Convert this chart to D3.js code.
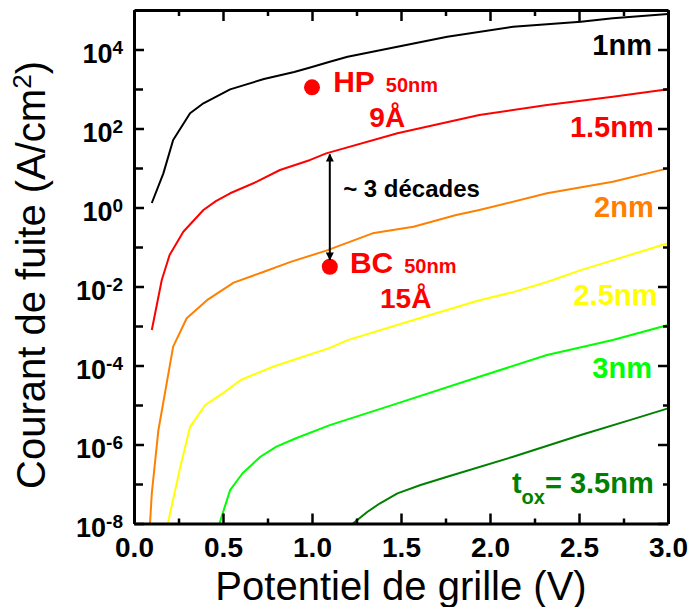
<!DOCTYPE html>
<html>
<head>
<meta charset="utf-8">
<script src="https://cdn.jsdelivr.net/npm/d3@7"></script>
<style>
body { margin: 0; background: #fff; }
text { font-family: "Liberation Sans", Arial, sans-serif; }
</style>
</head>
<body>
<div id="chart"></div>
<script>
const MARGIN = {top: 10, right: 23, bottom: 83.5, left: 134}
const TOTAL_WIDTH = 691
const TOTAL_HEIGHT = 607
const CHART_WIDTH = TOTAL_WIDTH - MARGIN.left - MARGIN.right
const CHART_HEIGHT = TOTAL_HEIGHT - MARGIN.top - MARGIN.bottom

// gate voltage (V) / leakage current density (A/cm2), one pair per oxide thickness
const v_1nm = [0.10, 0.165, 0.22, 0.315, 0.39, 0.54, 0.73, 0.90, 0.99, 1.10, 1.20, 1.48, 1.76, 2.13, 2.51, 2.69, 3.00]
const j_1nm = [1.3, 7.3, 51, 243, 435, 980, 1790, 2700, 3500, 4910, 6580, 11800, 21100, 37800, 50600, 61700, 79400]

const v_15nm = [0.10, 0.156, 0.20, 0.277, 0.39, 0.46, 0.54, 0.69, 0.82, 0.99, 1.08, 1.48, 1.94, 2.32, 2.69, 3.00]
const j_15nm = [7.9e-4, 1.46e-2, 6.3e-2, 0.244, 0.865, 1.45, 2.29, 4.5, 8.9, 16, 23.5, 75.5, 220, 394, 638, 982]

const v_2nm = [0.09, 0.10, 0.137, 0.22, 0.296, 0.41, 0.56, 0.73, 0.88, 1.08, 1.34, 1.57, 1.81, 1.94, 2.32, 2.69, 3.00]
const j_2nm = [1e-8, 5.8e-8, 2.3e-6, 3.0e-4, 1.57e-3, 4.5e-3, 1.25e-2, 2.37e-2, 4.2e-2, 8.1e-2, 0.222, 0.327, 0.646, 0.865, 2.29, 4.5, 9.8]

const v_25nm = [0.19, 0.26, 0.315, 0.40, 0.50, 0.60, 0.78, 0.95, 1.10, 1.20, 1.57, 1.94, 2.13, 2.32, 2.51, 3.00]
const j_25nm = [1e-8, 2.7e-7, 2.8e-6, 1.0e-5, 2.0e-5, 4.3e-5, 9.3e-5, 1.67e-4, 2.8e-4, 4.4e-4, 1.42e-3, 4.5e-3, 7.2e-3, 1.3e-2, 2.6e-2, 0.124]

const v_3nm = [0.48, 0.54, 0.61, 0.71, 0.80, 0.91, 1.10, 1.48, 1.94, 2.32, 2.69, 3.00]
const j_3nm = [1e-8, 7.0e-8, 1.87e-7, 4.9e-7, 8.8e-7, 1.44e-6, 3.1e-6, 1.1e-5, 5.2e-5, 1.85e-4, 4.4e-4, 1.06e-3]

const v_35nm = [1.23, 1.31, 1.38, 1.48, 1.61, 1.76, 2.13, 2.51, 2.79, 3.00]
const j_35nm = [1e-8, 1.95e-8, 3.2e-8, 5.8e-8, 9.4e-8, 1.53e-7, 4.9e-7, 1.74e-6, 4.2e-6, 8.2e-6]

const seriesNames = ['1nm', '1.5nm', '2nm', '2.5nm', '3nm', '3.5nm']
const seriesColors = ['#000000', '#ff0000', '#ff8000', '#ffff00', '#00ff00', '#008000']

// tick labels
const xTicks = [0.0, 0.5, 1.0, 1.5, 2.0, 2.5, 3.0]
const xMinorTicks = [0.25, 0.75, 1.25, 1.75, 2.25, 2.75]
const yExponents = [-8, -6, -4, -2, 0, 2, 4]
const yMinorExponents = [-7, -5, -3, -1, 1, 3]

// technology nodes: [V, J]
const hpPoint = [1.0, 1100]
const bcPoint = [1.1, 0.0316]
const arrowV = 1.1
const arrowJ = [23.5, 0.045]

let series = [
    {name: seriesNames[0], v: v_1nm, j: j_1nm},
    {name: seriesNames[1], v: v_15nm, j: j_15nm},
    {name: seriesNames[2], v: v_2nm, j: j_2nm},
    {name: seriesNames[3], v: v_25nm, j: j_25nm},
    {name: seriesNames[4], v: v_3nm, j: j_3nm},
    {name: seriesNames[5], v: v_35nm, j: j_35nm}
]

let svg = d3.select('#chart')
    .append('svg')
    .attr('width', TOTAL_WIDTH)
    .attr('height', TOTAL_HEIGHT)
    .style('background', '#fff')

let xScale = d3.scaleLinear().domain([0, 3]).range([0, CHART_WIDTH])
let yScale = d3.scaleLog().domain([1e-8, 1e5]).range([CHART_HEIGHT, 0])

let plot = svg.append('g')
    .attr('transform', 'translate(' + MARGIN.left + ',' + MARGIN.top + ')')

svg.append('defs').append('marker')
    .attr('id', 'head')
    .attr('viewBox', '0 0 10 10')
    .attr('refX', 9).attr('refY', 5)
    .attr('markerWidth', 4).attr('markerHeight', 4)
    .attr('orient', 'auto-start-reverse')
    .append('path')
    .attr('d', 'M0,0 L10,5 L0,10 z')
    .attr('fill', '#000')

let line = d3.line()
    .x(d => xScale(d[0]))
    .y(d => yScale(d[1]))

plot.selectAll('.curve')
    .data(series)
    .join('path')
    .attr('class', 'curve')
    .attr('d', s => line(s.v.map((v, i) => [v, s.j[i]])))
    .attr('fill', 'none')
    .attr('stroke', (s, i) => seriesColors[i])
    .attr('stroke-width', 2)
    .attr('stroke-linejoin', 'round')

// axes: all ticks point inwards
function styleAxis(g) {
    g.attr('font-family', null).attr('font-size', null)
    g.select('.domain').attr('stroke-width', 3).attr('stroke', '#000')
    g.selectAll('.tick line').attr('stroke-width', 2.5).attr('stroke', '#000')
}

plot.append('g')
    .attr('transform', 'translate(0,' + CHART_HEIGHT + ')')
    .call(d3.axisBottom(xScale).tickValues(xMinorTicks).tickSize(-5).tickSizeOuter(0).tickFormat(''))
    .call(g => g.select('.domain').remove())
    .call(styleAxis)

plot.append('g')
    .call(d3.axisTop(xScale).tickValues(xMinorTicks).tickSize(-6).tickSizeOuter(0).tickFormat(''))
    .call(g => g.select('.domain').remove())
    .call(styleAxis)

plot.append('g')
    .call(d3.axisLeft(yScale).tickValues(yMinorExponents.map(e => Math.pow(10, e))).tickSize(-9).tickSizeOuter(0).tickFormat(''))
    .call(g => g.select('.domain').remove())
    .call(styleAxis)

plot.append('g')
    .attr('transform', 'translate(' + CHART_WIDTH + ',0)')
    .call(d3.axisRight(yScale).tickValues(yMinorExponents.map(e => Math.pow(10, e))).tickSize(-5).tickSizeOuter(0).tickFormat(''))
    .call(g => g.select('.domain').remove())
    .call(styleAxis)

let xAxis = plot.append('g')
    .attr('transform', 'translate(0,' + CHART_HEIGHT + ')')
    .call(d3.axisBottom(xScale).tickValues(xTicks).tickSize(-10).tickSizeOuter(0).tickPadding(14).tickFormat(d3.format('.1f')))
    .call(styleAxis)

xAxis.selectAll('.tick text')
    .style('font-size', '28px')
    .style('font-weight', 'bold')
    .attr('fill', '#000')

plot.append('g')
    .call(d3.axisTop(xScale).tickValues(xTicks).tickSize(-11).tickSizeOuter(0).tickFormat(''))
    .call(styleAxis)

let yAxis = plot.append('g')
    .call(d3.axisLeft(yScale).tickValues(yExponents.map(e => Math.pow(10, e))).tickSize(-10).tickSizeOuter(0).tickFormat(''))
    .call(styleAxis)

plot.append('g')
    .attr('transform', 'translate(' + CHART_WIDTH + ',0)')
    .call(d3.axisRight(yScale).tickValues(yExponents.map(e => Math.pow(10, e))).tickSize(-10).tickSizeOuter(0).tickFormat(''))
    .call(styleAxis)

// power-of-ten labels
yAxis.selectAll('.tick').each(function(d) {
    let t = d3.select(this).append('text')
        .attr('x', -11)
        .attr('y', 12.5)
        .attr('text-anchor', 'end')
        .attr('fill', '#000')
        .style('font-weight', 'bold')
    t.append('tspan').text('10').style('font-size', '27px')
    t.append('tspan').text(Math.round(Math.log10(d))).style('font-size', '19px').attr('dy', -8.5)
})

// axis titles
svg.append('text')
    .attr('x', MARGIN.left + CHART_WIDTH / 2)
    .attr('y', 600)
    .attr('text-anchor', 'middle')
    .style('font-size', '40px')
    .text('Potentiel de grille (V)')

let yTitle = svg.append('text')
    .attr('transform', 'translate(45,275) rotate(-90)')
    .attr('text-anchor', 'middle')
    .style('font-size', '40px')
yTitle.append('tspan').text('Courant de fuite (A/cm')
yTitle.append('tspan').text('2').style('font-size', '26px').attr('dy', -14)
yTitle.append('tspan').text(')').attr('dy', 14)

// curve labels: [V, J] of text end
const curveLabelPos = [[2.91, 7260], [2.92, 62], [2.92, 0.585], [2.94, 3.4e-3], [2.91, 4.8e-5], [2.92, 5.9e-8]]

plot.selectAll('.clabel')
    .data(series)
    .join('text')
    .attr('class', 'clabel')
    .attr('x', (s, i) => xScale(curveLabelPos[i][0]))
    .attr('y', (s, i) => yScale(curveLabelPos[i][1]))
    .attr('text-anchor', 'end')
    .attr('fill', (s, i) => seriesColors[i])
    .style('font-size', '29px')
    .style('font-weight', 'bold')
    .each(function(s, i) {
        let t = d3.select(this)
        if (i === series.length - 1) {
            t.append('tspan').text('t')
            t.append('tspan').text('ox').style('font-size', '20px').attr('dy', 11)
            t.append('tspan').text('= ' + s.name).attr('dy', -11)
        } else {
            t.text(s.name)
        }
    })

// HP / BC markers
plot.selectAll('.node')
    .data([hpPoint, bcPoint])
    .join('circle')
    .attr('class', 'node')
    .attr('cx', d => xScale(d[0]))
    .attr('cy', d => yScale(d[1]))
    .attr('r', 8)
    .attr('fill', '#ff0000')

const nodeLabels = [
    {main: 'HP', sub: '50nm', pos: [1.119, 855], ox: '9Å', oxPos: [1.322, 111]},
    {main: 'BC', sub: '50nm', pos: [1.213, 0.0216], ox: '15Å', oxPos: [1.382, 2.8e-3]}
]

for (let n of nodeLabels) {
    let t = plot.append('text')
        .attr('x', xScale(n.pos[0]))
        .attr('y', yScale(n.pos[1]))
        .attr('fill', '#ff0000')
        .style('font-weight', 'bold')
    t.append('tspan').text(n.main).style('font-size', '30px')
    t.append('tspan').text(n.sub).style('font-size', '20px').attr('dx', 11)

    plot.append('text')
        .attr('x', xScale(n.oxPos[0]))
        .attr('y', yScale(n.oxPos[1]))
        .attr('fill', '#ff0000')
        .style('font-weight', 'bold')
        .style('font-size', '28px')
        .text(n.ox)
}

// ~3 decades arrow
plot.append('line')
    .attr('x1', xScale(arrowV))
    .attr('x2', xScale(arrowV))
    .attr('y1', yScale(arrowJ[0]) + 1)
    .attr('y2', yScale(arrowJ[1]) - 1)
    .attr('stroke', '#000')
    .attr('stroke-width', 2)
    .attr('marker-start', 'url(#head)')
    .attr('marker-end', 'url(#head)')

plot.append('text')
    .attr('x', xScale(1.175))
    .attr('y', yScale(1.87))
    .style('font-size', '24px')
    .style('font-weight', 'bold')
    .text('~ 3 décades')
</script>
</body>
</html>
